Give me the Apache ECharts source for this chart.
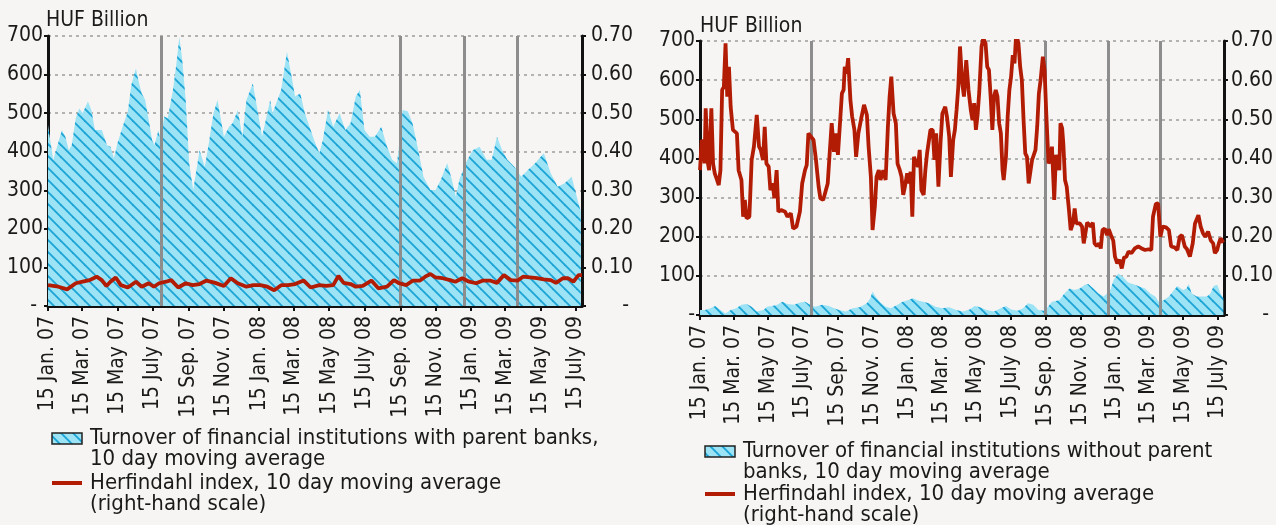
<!DOCTYPE html>
<html><head><meta charset="utf-8">
<script src="https://cdn.jsdelivr.net/npm/echarts@6/dist/echarts.min.js"></script>
<style>html,body{margin:0;padding:0;background:#f6f5f3;}#c{width:1276px;height:525px;}</style>
</head><body><div id="c"></div>
<script>
// ---- axis ticks / labels ----
const startDate = '2007-01-15';
const endDay = 923;
const tickDates = ['2007-01-15','2007-03-15','2007-05-15','2007-07-15','2007-09-15','2007-11-15','2008-01-15','2008-03-15','2008-05-15','2008-07-15','2008-09-15','2008-11-15','2009-01-15','2009-03-15','2009-05-15','2009-07-15'];
const tickLabels = ['15 Jan. 07','15 Mar. 07','15 May 07','15 July 07','15 Sep. 07','15 Nov. 07','15 Jan. 08','15 Mar. 08','15 May 08','15 July 08','15 Sep. 08','15 Nov. 08','15 Jan. 09','15 Mar. 09','15 May 09','15 July 09'];
const eventDates = ['2007-07-30','2008-09-15','2009-01-03','2009-04-05'];
const unitLabel = 'HUF Billion';

// ---- left chart: with parent banks (day = days since 15 Jan 2007) ----
const leftTurnDay = [0,9,24,30,36,41,48,54,60,69,75,81,93,102,108,114,120,129,138,144,152,156,162,168,173,180,184,191,194,201,207,216,222,227,232,238,244,251,262,271,278,286,293,304,313,319,328,336,343,354,361,370,379,384,388,403,413,421,427,436,444,460,469,475,484,493,504,514,523,532,539,547,556,565,576,586,595,603,606,613,622,630,640,649,661,670,679,690,698,705,711,722,734,746,758,767,776,785,794,806,818,830,842,857,869,881,893,905,917,921];
const leftTurnVal = [469,378,456,439,404,417,487,512,500,530,508,456,456,417,413,383,422,465,504,573,616,586,551,534,491,430,417,456,430,491,487,560,629,698,638,534,370,301,404,361,422,500,534,439,465,474,508,439,534,577,517,439,500,534,500,560,659,595,543,551,500,430,396,430,508,465,500,456,474,543,560,456,439,439,465,413,379,370,404,508,504,474,404,335,301,301,327,370,327,283,327,370,404,413,379,379,439,404,379,361,335,353,370,396,344,309,318,335,266,245];
const leftHerfDay = [0,18,33,48,60,72,84,93,101,108,117,126,138,152,162,174,183,192,204,213,225,238,250,262,274,289,304,316,328,343,355,367,379,391,403,415,427,442,454,469,481,493,502,511,523,532,544,559,571,586,598,607,619,631,643,652,661,670,682,695,704,716,728,740,752,764,776,788,800,812,821,833,845,857,869,878,890,899,908,917,923];
const leftHerfVal = [0.054,0.050,0.043,0.059,0.063,0.067,0.076,0.067,0.052,0.063,0.074,0.054,0.048,0.063,0.050,0.059,0.050,0.059,0.063,0.067,0.048,0.059,0.054,0.057,0.066,0.060,0.052,0.072,0.059,0.050,0.054,0.054,0.050,0.041,0.054,0.054,0.057,0.066,0.048,0.054,0.052,0.054,0.078,0.060,0.057,0.050,0.052,0.066,0.046,0.050,0.067,0.059,0.054,0.066,0.066,0.076,0.083,0.074,0.072,0.067,0.063,0.072,0.063,0.059,0.066,0.066,0.060,0.080,0.067,0.066,0.076,0.074,0.072,0.069,0.067,0.060,0.072,0.072,0.063,0.080,0.080];

// ---- right chart: without parent banks ----
const rightTurnDay = [0,9,18,27,36,45,54,64,73,82,91,100,112,118,127,136,145,154,166,176,185,194,203,215,227,236,245,257,269,281,294,300,304,309,318,327,336,348,357,366,375,384,393,403,415,427,439,451,463,475,484,493,505,518,530,539,548,560,569,578,587,596,605,611,620,633,642,651,660,669,678,684,693,702,711,717,723,729,737,745,754,766,775,784,793,802,808,817,826,835,841,851,857,861,866,875,884,893,899,905,911,917,922];
const rightTurnVal = [13,13,17,23,13,4,13,17,26,28,21,9,13,21,23,26,34,28,26,32,34,26,21,26,23,17,13,9,17,20,30,43,60,47,32,21,17,26,34,38,43,37,34,30,21,17,20,13,9,14,23,20,13,9,17,23,14,11,17,30,26,13,11,17,34,38,55,68,64,68,77,79,68,55,47,55,64,91,106,98,83,77,72,68,55,47,34,38,47,64,74,64,68,79,55,47,47,47,55,74,77,55,43];
const rightHerfDay = [0,3,6,8,10,14,16,20,23,26,30,33,36,39,42,45,48,51,54,58,61,65,68,73,76,79,82,87,91,95,100,104,107,111,114,117,121,124,128,131,135,138,143,150,154,160,164,170,176,180,185,188,191,194,200,204,209,212,217,221,225,228,232,236,239,243,246,250,253,255,258,261,265,268,272,275,279,284,289,294,297,301,304,308,311,315,318,323,327,331,334,337,341,345,348,352,355,358,361,365,368,371,374,377,381,384,387,390,394,397,400,403,406,410,413,416,420,424,427,432,435,439,442,446,449,452,455,458,462,465,469,473,477,480,483,486,489,492,496,499,503,506,509,512,515,518,521,524,527,530,533,535,539,542,545,548,551,554,557,561,564,567,570,573,576,579,582,585,588,591,594,597,600,604,607,610,614,617,620,624,627,630,633,635,638,640,643,646,650,653,657,660,663,669,673,676,679,682,685,689,692,695,699,703,706,709,713,717,720,724,728,731,735,739,743,747,751,755,760,766,772,778,784,790,795,798,803,807,811,815,821,826,830,836,841,845,849,854,858,863,868,872,878,882,886,890,895,900,904,907,911,914,917,922];
const rightHerfVal = [0.370,0.447,0.439,0.387,0.528,0.387,0.370,0.528,0.387,0.362,
0.345,0.332,0.370,0.575,0.583,0.694,0.558,0.634,0.532,0.473,
0.473,0.464,0.370,0.345,0.251,0.294,0.247,0.251,0.396,0.430,
0.511,0.430,0.422,0.396,0.481,0.387,0.379,0.319,0.336,0.298,
0.370,0.264,0.268,0.264,0.251,0.260,0.221,0.226,0.264,0.336,
0.370,0.383,0.464,0.460,0.447,0.400,0.328,0.298,0.294,0.315,
0.336,0.404,0.490,0.417,0.464,0.409,0.413,0.566,0.575,0.634,
0.617,0.656,0.549,0.507,0.473,0.404,0.464,0.502,0.537,0.511,
0.430,0.353,0.217,0.277,0.353,0.370,0.345,0.370,0.345,0.481,
0.558,0.609,0.515,0.490,0.387,0.370,0.353,0.307,0.328,0.362,
0.336,0.366,0.251,0.404,0.387,0.379,0.422,0.319,0.307,0.370,
0.413,0.417,0.473,0.473,0.396,0.464,0.328,0.447,0.515,0.532,
0.507,0.456,0.353,0.447,0.473,0.524,0.583,0.686,0.592,0.558,
0.651,0.575,0.524,0.498,0.541,0.473,0.511,0.571,0.686,0.707,
0.694,0.634,0.626,0.558,0.473,0.558,0.575,0.558,0.490,0.464,
0.370,0.345,0.404,0.507,0.575,0.609,0.664,0.643,0.718,0.694,
0.634,0.600,0.498,0.413,0.404,0.336,0.341,0.396,0.400,0.422,
0.481,0.566,0.600,0.660,0.626,0.515,0.387,0.396,0.430,0.294,
0.409,0.413,0.370,0.490,0.477,0.439,0.345,0.328,0.268,0.217,
0.234,0.272,0.234,0.234,0.226,0.183,0.183,0.236,0.234,0.226,
0.236,0.183,0.176,0.183,0.170,0.217,0.221,0.204,0.219,0.204,
0.190,0.149,0.132,0.141,0.119,0.147,0.149,0.162,0.158,0.170,
0.175,0.170,0.166,0.168,0.166,0.251,0.284,0.285,0.200,0.226,
0.224,0.217,0.175,0.173,0.166,0.200,0.204,0.175,0.168,0.149,
0.183,0.234,0.255,0.226,0.209,0.200,0.213,0.190,0.183,0.158,
0.166,0.183,0.196,0.185];

// ---- helpers ----
function dayOf(s){const p=s.split('-').map(Number);const q=startDate.split('-').map(Number);
  return Math.round((Date.UTC(p[0],p[1]-1,p[2])-Date.UTC(q[0],q[1]-1,q[2]))/86400000);}
const tickDays = tickDates.map(dayOf);
const eventDays = eventDates.map(dayOf);
function pairs(d,v){const n=Math.min(d.length,v.length);const r=[];for(let i=0;i<n;i++)r.push([d[i],v[i]]);return r;}
function hatch(){const s=12;const c=document.createElement('canvas');c.width=s;c.height=s;const g=c.getContext('2d');
  g.fillStyle='#9ce3f5';g.fillRect(0,0,s,s);g.strokeStyle='#1aa4d6';g.lineWidth=1.8;
  for(const o of [-s,0,s]){g.beginPath();g.moveTo(o-2,-2);g.lineTo(o+s+2,s+2);g.stroke();}
  return c;}
const pat = {image:hatch(),repeat:'repeat'};
const FONT = "'DejaVu Sans Condensed','DejaVu Sans',sans-serif";
const FS = 21;
const TXT = '#1a1a1a';
const RED = '#b21c05';
const AX = {color:'#111',width:3};

function xAx(gi){return {type:'value',gridIndex:gi,min:0,max:endDay,splitLine:{show:false},
  axisLine:{show:true,onZero:false,lineStyle:AX},
  axisTick:{show:true,customValues:tickDays,length:5,lineStyle:{color:'#111',width:2}},
  axisLabel:{customValues:tickDays,rotate:90,margin:10,fontFamily:FONT,fontSize:FS,color:TXT,
    formatter:v=>{const i=tickDays.indexOf(Math.round(v));return i>=0?tickLabels[i]:'';}}};}
function yLeft(gi,zero){return {type:'value',gridIndex:gi,min:0,max:700,interval:100,position:'left',
  axisLine:{show:true,lineStyle:AX},axisTick:{show:true,length:4,lineStyle:{color:'#111',width:2}},
  axisLabel:{margin:5,fontFamily:FONT,fontSize:FS,color:TXT,formatter:v=>v===0?zero:String(v)},
  splitLine:{show:true,lineStyle:{color:'#9c9c9c',type:[3,4],width:1.5}}};}
function yRight(gi,margin){return {type:'value',gridIndex:gi,min:0,max:0.7,interval:0.1,position:'right',
  axisLine:{show:true,lineStyle:AX},axisTick:{show:true,length:4,lineStyle:{color:'#111',width:2}},
  axisLabel:{margin:margin,fontFamily:FONT,fontSize:FS,color:TXT,
    formatter:v=>Math.abs(v)<1e-9?'{d|-}':v.toFixed(2),rich:{d:{width:38,align:'right',fontFamily:FONT,fontSize:FS,color:TXT}}},
  splitLine:{show:false}};}
function area(gi,yi,d,v,name){return {name:name,type:'line',xAxisIndex:gi,yAxisIndex:yi,data:pairs(d,v),showSymbol:false,
  lineStyle:{width:0},areaStyle:{color:pat,opacity:1},z:2,
  markLine:{silent:true,symbol:['none','none'],label:{show:false},animation:false,
    lineStyle:{color:'#8d8d8d',width:3,type:'solid'},data:eventDays.map(e=>({xAxis:e}))}};}
function herf(gi,yi,d,v){return {name:'Herfindahl index, 10 day moving average',type:'line',xAxisIndex:gi,yAxisIndex:yi,
  data:pairs(d,v),showSymbol:false,lineStyle:{color:RED,width:3.8},z:5};}

function legendGroup(x,y0,lines1,lines2,gap){
  const els=[];const LF=22;
  els.push({type:'rect',shape:{x:x,y:y0-5,width:30,height:11},style:{fill:pat,stroke:'#222',lineWidth:1.5}});
  lines1.forEach((t,i)=>els.push({type:'text',x:x+38,y:y0+i*21.5,style:{text:t,fontFamily:FONT,fontSize:LF,fill:TXT,verticalAlign:'middle'}}));
  const y1=y0+gap;
  els.push({type:'line',shape:{x1:x,y1:y1,x2:x+30,y2:y1},style:{stroke:RED,lineWidth:4}});
  lines2.forEach((t,i)=>els.push({type:'text',x:x+38,y:y1+i*21.5,style:{text:t,fontFamily:FONT,fontSize:LF,fill:TXT,verticalAlign:'middle'}}));
  return els;}

const chart = echarts.init(document.getElementById('c'));
chart.setOption({
  backgroundColor:'#f6f5f3',animation:false,
  grid:[{left:48,top:36,width:534,height:270},{left:700,top:41,width:527,height:274}],
  xAxis:[xAx(0),xAx(1)],
  yAxis:[yLeft(0,'- '),yRight(0,9),yLeft(1,'-'),yRight(1,7)],
  series:[
    area(0,0,leftTurnDay,leftTurnVal,'Turnover of financial institutions with parent banks, 10 day moving average'),
    herf(0,1,leftHerfDay,leftHerfVal),
    area(1,2,rightTurnDay,rightTurnVal,'Turnover of financial institutions without parent banks, 10 day moving average'),
    herf(1,3,rightHerfDay,rightHerfVal)
  ],
  graphic:[].concat(
    [{type:'text',x:46,y:21,style:{text:unitLabel,fontFamily:FONT,fontSize:FS,fill:TXT,verticalAlign:'middle'}},
     {type:'text',x:700,y:27,style:{text:unitLabel,fontFamily:FONT,fontSize:FS,fill:TXT,verticalAlign:'middle'}}],
    legendGroup(52,438,['Turnover of financial institutions with parent banks,','10 day moving average'],['Herfindahl index, 10 day moving average','(right-hand scale)'],45),
    legendGroup(705,451,['Turnover of financial institutions without parent','banks, 10 day moving average'],['Herfindahl index, 10 day moving average','(right-hand scale)'],43)
  )
});
</script></body></html>
